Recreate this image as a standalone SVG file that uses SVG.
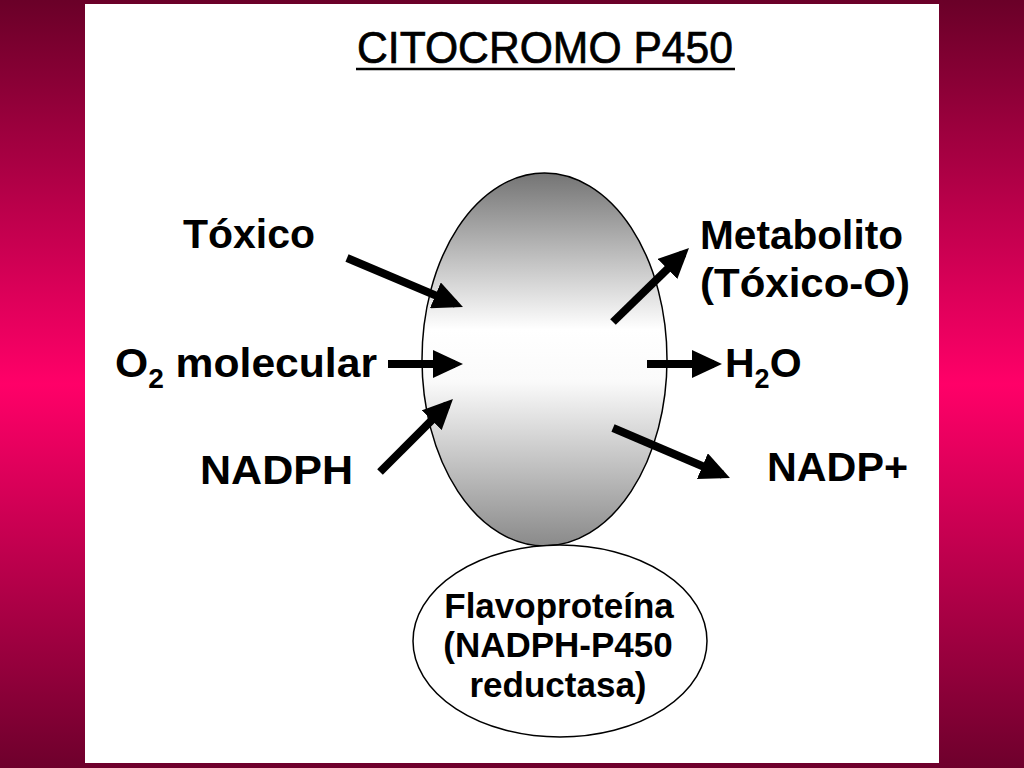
<svg xmlns="http://www.w3.org/2000/svg" width="1024" height="768" viewBox="0 0 1024 768">
  <style>
    .lbl { font-family: "Liberation Sans", Arial, sans-serif; font-weight: bold; font-size: 41px; fill: #000; }
    .title { font-family: "Liberation Sans", Arial, sans-serif; font-size: 45px; fill: #000; stroke: #000; stroke-width: 0.7; }
    .flv { font-family: "Liberation Sans", Arial, sans-serif; font-weight: bold; font-size: 35px; fill: #000; text-anchor: middle; }
    .arrow { stroke: #000; stroke-width: 8; fill: none; marker-end: url(#head); }
  </style>
  <defs>
    <linearGradient id="bg" x1="0" y1="0" x2="0" y2="1">
      <stop offset="0" stop-color="#6a0028"/>
      <stop offset="0.5" stop-color="#ff0068"/>
      <stop offset="1" stop-color="#6e002c"/>
    </linearGradient>
    <linearGradient id="cyp" x1="0" y1="0" x2="0" y2="1">
      <stop offset="0" stop-color="#747474"/>
      <stop offset="0.42" stop-color="#ffffff"/>
      <stop offset="0.56" stop-color="#fafafa"/>
      <stop offset="1" stop-color="#8a8a8a"/>
    </linearGradient>
    <marker id="head" markerUnits="userSpaceOnUse" markerWidth="30" markerHeight="28" viewBox="0 0 30 28" refX="22" refY="14" orient="auto">
      <path d="M0,0 L30,14 L0,28 Z" fill="#000"/>
    </marker>
  </defs>

  <rect x="0" y="0" width="1024" height="768" fill="url(#bg)"/>
  <rect x="85" y="4" width="854" height="759" fill="#ffffff"/>

  <g id="title">
    <text class="title" x="357" y="63" textLength="376" lengthAdjust="spacingAndGlyphs">CITOCROMO P450</text>
    <line x1="356" y1="69" x2="735" y2="69" stroke="#000" stroke-width="2.5"/>
  </g>

  <g id="cyp450">
    <ellipse cx="544.5" cy="359.5" rx="122.5" ry="186.5" fill="url(#cyp)" stroke="#000" stroke-width="1.5"/>
  </g>

  <g id="flavoproteina">
    <ellipse cx="560" cy="641" rx="147" ry="96" fill="#ffffff" stroke="#000" stroke-width="1.5"/>
    <text class="flv" x="559" y="618">Flavoproteína</text>
    <text class="flv" x="558" y="657">(NADPH-P450</text>
    <text class="flv" x="558" y="697">reductasa)</text>
  </g>

  <g id="toxico"><text class="lbl" x="183" y="248" textLength="132" lengthAdjust="spacingAndGlyphs">Tóxico</text></g>
  <g id="o2"><text class="lbl" x="115" y="377" textLength="262" lengthAdjust="spacingAndGlyphs">O<tspan dy="11" font-size="27">2</tspan><tspan dy="-11"> molecular</tspan></text></g>
  <g id="nadph"><text class="lbl" x="200" y="484" textLength="153" lengthAdjust="spacingAndGlyphs">NADPH</text></g>
  <g id="metabolito">
    <text class="lbl" x="700" y="249" textLength="203" lengthAdjust="spacingAndGlyphs">Metabolito</text>
    <text class="lbl" x="700" y="297" textLength="210" lengthAdjust="spacingAndGlyphs">(Tóxico-O)</text>
  </g>
  <g id="h2o"><text class="lbl" x="725" y="377">H<tspan dy="11" font-size="27">2</tspan><tspan dy="-11">O</tspan></text></g>
  <g id="nadp"><text class="lbl" x="767" y="481" textLength="141" lengthAdjust="spacingAndGlyphs">NADP+</text></g>

  <g id="connectors">
    <line class="arrow" x1="347" y1="258" x2="455.6" y2="303.9"/>
    <line class="arrow" x1="388" y1="364" x2="455" y2="364"/>
    <line class="arrow" x1="380" y1="472" x2="447.3" y2="404.7"/>
    <line class="arrow" x1="613" y1="322" x2="683.3" y2="253.6"/>
    <line class="arrow" x1="647" y1="364" x2="714" y2="364"/>
    <line class="arrow" x1="613" y1="428" x2="722.6" y2="474.8"/>
  </g>
</svg>
